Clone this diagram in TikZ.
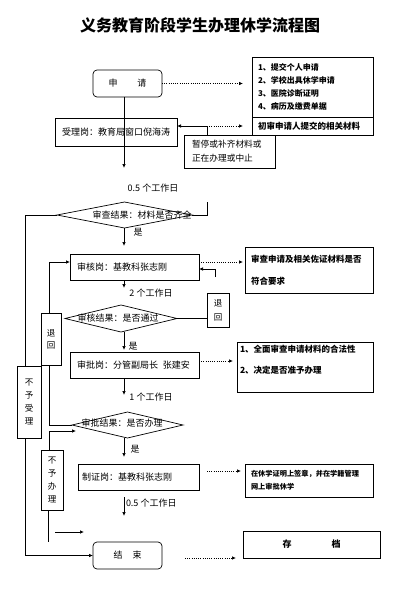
\documentclass[tikz,border=0pt]{standalone}
\usepackage{fontspec}
\setmainfont{Noto Sans CJK SC}
\usetikzlibrary{arrows.meta,shapes.geometric}
\begin{document}
\begin{tikzpicture}[x=1pt,y=-1pt,
  every node/.style={inner sep=0pt, outer sep=0pt, font=\fontsize{9}{11}\selectfont},
  ln/.style={line width=0.7pt},
  dl/.style={line width=0.7pt, dash pattern=on 0.8pt off 1.4pt},
  arr/.style={-{Latex[length=4pt,width=3.5pt]}},
  box/.style={draw, line width=0.7pt},
  rbox/.style={draw, line width=0.7pt, rounded corners=4pt},
  dia/.style={draw, line width=0.7pt, diamond},
  note/.style={font=\bfseries\fontsize{8.5}{13}\selectfont},
  vtext/.style={align=center, font=\fontsize{8.5}{13}\selectfont},
]
\useasboundingbox (0,0) rectangle (400,607);
\fill[white] (0,0) rectangle (400,607);

\node[font=\bfseries\fontsize{16}{16}\selectfont] (title) at (200,25) {义务教育阶段学生办理休学流程图};

% nodes
\node[rbox, minimum width=69pt, minimum height=27pt] (apply) at (127.5,83.5) {申\hspace{20pt}请};
\node[box, minimum height=60pt, text width=109pt, inner xsep=6pt, align=left, note, font=\fontsize{8}{13}\selectfont\bfseries] (list) at (312.5,87)
  {1、提交个人申请\\2、学校出具休学申请\\3、医院诊断证明\\4、病历及缴费单据};
\node[box, minimum height=18pt, text width=109pt, inner xsep=6pt, align=left, note] (chushen) at (312.5,126) {初审申请人提交的相关材料};
\node[box, minimum height=28pt, text width=108pt, inner xsep=7pt, align=left] (shouli) at (116,132) {受理岗：教育局窗口倪海涛};
\node[box, minimum height=33pt, text width=75pt, inner xsep=8pt, align=left, font=\fontsize{8.7}{14}\selectfont] (zanting) at (229.5,151.5) {暂停或补齐材料或\\正在办理或中止};

\node[dia, minimum width=135pt, minimum height=26pt] (d1) at (124.5,215) {};
\node (d1t) at (142,215) {审查结果：材料是否齐全};

\node[box, minimum height=26pt, text width=115pt, inner xsep=7pt, align=left] (shenhe) at (134.5,267) {审核岗：基教科张志刚};
\node[box, minimum height=46pt, text width=116pt, inner xsep=6pt, align=left, note, font=\fontsize{8.5}{22}\selectfont\bfseries] (shenhenote) at (309,270) {审查申请及相关佐证材料是否\\符合要求};

\node[dia, minimum width=112pt, minimum height=27pt] (d2) at (121,318.5) {};
\node (d2t) at (118,318) {审核结果：是否通过};
\node[box, minimum width=22pt, minimum height=34pt, vtext, font=\fontsize{8.5}{14}\selectfont] (tuihui1) at (218,310) {退\\回};
\node[box, minimum width=20pt, minimum height=52pt, vtext, font=\fontsize{8.5}{12}\selectfont] (tuihui2) at (51,339) {退\\回};

\node[box, minimum height=26pt, text width=115pt, inner xsep=7pt, align=left] (shenpi) at (134.5,365) {审批岗：分管副局长\hspace{5pt}张建安};
\node[box, minimum width=136pt, minimum height=50pt,
  label={[anchor=north west, xshift=3pt, yshift=-3pt, align=left, font=\fontsize{8.5}{21}\selectfont\bfseries]north west:{1、全面审查申请材料的合法性\\2、决定是否准予办理}}] (shenpinote) at (305,367) {};

\node[box, minimum width=24pt, minimum height=72pt, vtext] (buyushouli) at (29,402) {不\\予\\受\\理};

\node[dia, minimum width=111pt, minimum height=26pt] (d3) at (127.5,425) {};
\node (d3t) at (122,423) {审批结果：是否办理};

\node[box, minimum width=22pt, minimum height=60pt, vtext] (buyubanli) at (52,480) {不\\予\\办\\理};
\node[box, minimum height=26pt, text width=113pt, inner xsep=4pt, align=left] (zhizheng) at (138.5,477) {制证岗：基教科张志刚};
\node[box, minimum height=33pt, text width=116pt, inner xsep=6pt, align=left, font=\fontsize{7.2}{13}\selectfont\bfseries] (zhizhengnote) at (309,480.5) {在休学证明上签章，并在学籍管理\\网上审批休学};

\node[rbox, minimum width=69pt, minimum height=27pt] (end) at (127.5,555.5) {结\hspace{10pt}束};
\node[box, minimum width=137pt, minimum height=27pt, font=\bfseries\fontsize{9}{11}\selectfont] (cundang) at (311.5,544.5) {存\hspace{40pt}档};

% labels
\node (t1) at (153,188) {0.5 个工作日};
\node (y1) at (138,232) {是};
\node (t2) at (151,293) {2 个工作日};
\node (y2) at (133,346) {是};
\node (t3) at (151,397) {1 个工作日};
\node (y3) at (135,449) {是};
\node[anchor=west] (t4) at (126,503) {0.5 个工作日};

% connectors
\coordinate (c1) at (243,83.5);
\draw[dl,arr] (apply.east) -- (c1);
\coordinate (c2) at (124,168);
\draw[ln,arr] (apply.south -| c2) -- (c2);

\coordinate (c3) at (207,126);
\coordinate (c4) at (243,126);
\draw[ln,arr] (c3) -- (shouli.east |- c3);
\draw[dl,arr] (c3) -- (c4);
\draw[ln] (c3) -- (zanting.north -| c3);

\coordinate (c5) at (25,215);
\draw[ln] (d1.west) -- (c5) -- (buyushouli.north -| c5);
\coordinate (c6) at (25,555.5);
\draw[ln,arr] (buyushouli.south -| c5) -- (c6) -- (end.west);

\coordinate (c7) at (207,215);
\coordinate (c8) at (207,202);
\draw[ln] (d1.east) -- (c7) -- (c8);

\coordinate (c9) at (124,246);
\draw[ln,arr] (d1.south -| c9) -- (c9);

\coordinate (c10) at (49,425);
\draw[ln] (d3.west) -- (c10) -- (tuihui2.south -| c10);
\coordinate (c11) at (49,262);
\draw[ln,arr] (tuihui2.north -| c10) -- (c11) -- (shenhe.west |- c11);

\coordinate (c12) at (124,288);
\draw[ln,arr] (shenhe.south -| c12) -- (c12);

\coordinate (c13) at (243,262);
\draw[dl,arr] (shenhe.east |- c13) -- (c13);

\coordinate (c14) at (215,277);
\coordinate (c15) at (215,269);
\draw[ln,arr] (c14) -- (c15) -- (shenhe.east |- c15);

\draw[ln] (d2.east) -- (d2.east -| tuihui1.west);

\coordinate (c16) at (124,350);
\draw[ln,arr] (d2.south -| c16) -- (c16);

\coordinate (c17) at (233,361);
\draw[dl,arr] (shenpi.east |- c17) -- (c17);

\coordinate (c18) at (124,395);
\draw[ln,arr] (shenpi.south -| c18) -- (c18);

\coordinate (c19) at (124,457);
\draw[ln,arr] (d3.south -| c19) -- (c19);

\coordinate (c20) at (49,431);
\coordinate (c21) at (76,431);
\draw[ln,arr] (buyubanli.north -| c20) -- (c20) -- (c21);
\coordinate (c22) at (48,542);
\draw[ln] (buyubanli.south -| c22) -- (c22);

\coordinate (c23) at (55,532);
\coordinate (c24) at (84,532);
\draw[ln,arr] (c23) -- (c24);

\coordinate (c25) at (207,471);
\coordinate (c26) at (241,471);
\draw[dl,arr] (c25) -- (c26);

\coordinate (c27) at (124,497);
\coordinate (c28) at (124,516);
\draw[ln,arr] (c27) -- (c28);

\coordinate (c29) at (185,558);
\coordinate (c30) at (236,558);
\draw[dl,arr] (c29) -- (c30);
\end{tikzpicture}
\end{document}
